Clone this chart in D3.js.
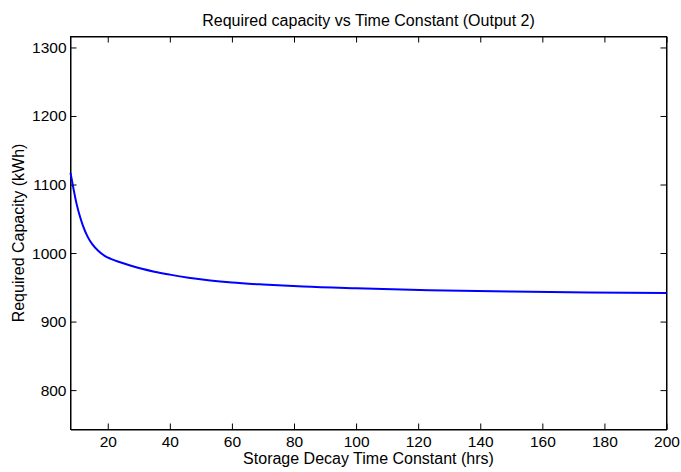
<!DOCTYPE html>
<html>
<head>
<meta charset="utf-8">
<script src="https://cdn.jsdelivr.net/npm/d3@7"></script>
<style>
    body { margin: 0; background: #fff; }
    svg text { font-family: "Liberation Sans", Arial, Helvetica, sans-serif; fill: #000; }
</style>
</head>
<body>
<div id="chart"></div>
<script>
// Required capacity vs storage decay time constant
const timeConstant = [8, 9, 10, 11, 12, 13.5, 15, 17, 19, 21, 24, 27.5, 31, 35, 40, 46, 53, 60, 70, 83, 100, 123.5, 150, 175, 200];
const requiredCapacity = [1117, 1093, 1071, 1054, 1040, 1024, 1013, 1003, 996, 991.5, 986.5, 981.5, 977, 972.8, 968.5, 964, 960, 957, 954, 951, 948.5, 945.8, 943.8, 942.6, 941.8];

const xTicks = [20, 40, 60, 80, 100, 120, 140, 160, 180, 200];
const yTicks = [800, 900, 1000, 1100, 1200, 1300];

const width = 681;
const height = 472;
const margin = { top: 36.5, right: 14.5, bottom: 42.5, left: 70.5 };
const chartWidth = width - margin.left - margin.right;
const chartHeight = height - margin.top - margin.bottom;

const svg = d3.select('#chart')
    .append('svg')
    .attr('width', width)
    .attr('height', height);

const g = svg.append('g')
    .attr('transform', `translate(${margin.left},${margin.top})`);

// Scales
const xScale = d3.scaleLinear()
    .domain([8, 200])
    .range([0, chartWidth]);

const yScale = d3.scaleLinear()
    .domain([742.5, 1316])
    .range([chartHeight, 0]);

const tickLen = 6;

// Bottom axis (ticks pointing in)
g.append('g')
    .attr('transform', `translate(0,${chartHeight})`)
    .call(d3.axisBottom(xScale).tickValues(xTicks).tickSize(-tickLen).tickPadding(6).tickSizeOuter(0));

// Top axis, ticks only
g.append('g')
    .call(d3.axisTop(xScale).tickValues(xTicks).tickSize(-tickLen).tickFormat('').tickSizeOuter(0));

// Left axis
g.append('g')
    .call(d3.axisLeft(yScale).tickValues(yTicks).tickSize(-tickLen).tickPadding(4)
        .tickFormat(d3.format('d')).tickSizeOuter(0));

// Right axis, ticks only
g.append('g')
    .attr('transform', `translate(${chartWidth},0)`)
    .call(d3.axisRight(yScale).tickValues(yTicks).tickSize(-tickLen).tickFormat('').tickSizeOuter(0));

g.selectAll('.domain, .tick line')
    .attr('stroke', '#000')
    .attr('stroke-width', 1);

g.selectAll('.tick text')
    .attr('font-size', '15.5px')
    .attr('fill', '#000');

// Box
g.append('rect')
    .attr('x', 0)
    .attr('y', 0)
    .attr('width', chartWidth)
    .attr('height', chartHeight)
    .attr('fill', 'none')
    .attr('stroke', '#000')
    .attr('stroke-width', 1);

// Curve
const points = timeConstant.map((t, i) => [t, requiredCapacity[i]]);

const line = d3.line()
    .x(d => xScale(d[0]))
    .y(d => yScale(d[1]))
    .curve(d3.curveMonotoneX);

g.append('path')
    .datum(points)
    .attr('d', line)
    .attr('fill', 'none')
    .attr('stroke', '#0000ff')
    .attr('stroke-width', 2);

// Title and axis labels
svg.append('text')
    .attr('x', margin.left + chartWidth / 2)
    .attr('y', 26)
    .attr('text-anchor', 'middle')
    .attr('font-size', '16px')
    .text('Required capacity vs Time Constant (Output 2)');

svg.append('text')
    .attr('x', margin.left + chartWidth / 2)
    .attr('y', 464)
    .attr('text-anchor', 'middle')
    .attr('font-size', '16px')
    .text('Storage Decay Time Constant (hrs)');

svg.append('text')
    .attr('transform', `translate(24,${margin.top + chartHeight / 2}) rotate(-90)`)
    .attr('text-anchor', 'middle')
    .attr('font-size', '16px')
    .text('Required Capacity (kWh)');
</script>
</body>
</html>
